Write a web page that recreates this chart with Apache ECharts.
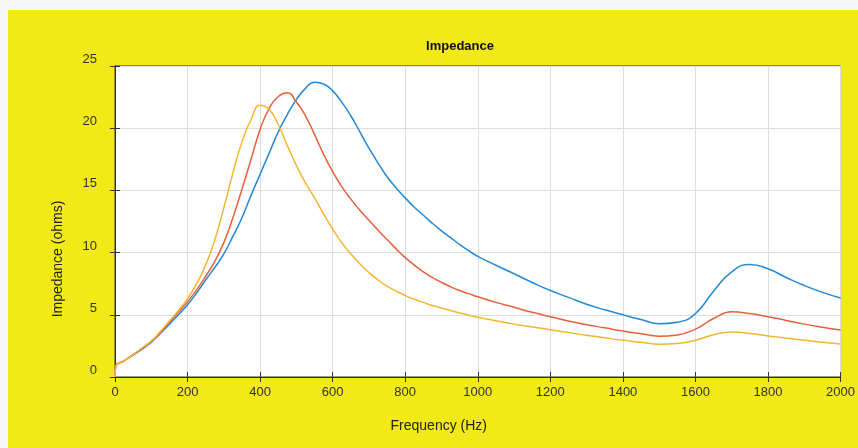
<!DOCTYPE html>
<html>
<head>
<meta charset="utf-8">
<script src="https://cdn.jsdelivr.net/npm/echarts@6/dist/echarts.min.js"></script>
<style>
  html, body { margin: 0; padding: 0; background: #f7f7f7; }
  #panel { position: absolute; left: 8px; top: 10px; right: 0; bottom: 0; background: #F1E918; }
  #main { position: absolute; left: 0; top: 0; width: 858px; height: 448px; }
</style>
</head>
<body>
<div id="panel"></div>
<div id="main"></div>
<script>
// frequency (Hz) and impedance (ohms)
var freq = [0, 2, 25, 50, 75, 100, 125, 150, 175, 200, 225, 250, 275, 300, 325, 350, 375, 400, 425, 450, 475,
            500, 525, 550, 575, 600, 625, 650, 675, 700, 725, 750, 775, 800, 825, 850, 875, 900, 925, 950, 975,
            1000, 1050, 1100, 1150, 1200, 1250, 1300, 1350, 1400, 1450, 1500, 1550, 1600, 1650, 1700, 1750,
            1800, 1850, 1900, 1950, 2000];

var zBlue = [0, 0.85, 1.3, 1.75, 2.25, 2.8, 3.5, 4.25, 5.0, 5.8, 6.75, 7.8, 8.8, 9.9, 11.3, 12.8, 14.6, 16.3, 18.0, 19.7, 21.1,
             22.3, 23.2, 23.7, 23.55, 23.0, 22.1, 21.0, 19.7, 18.4, 17.2, 16.1, 15.2, 14.4, 13.65, 13.0, 12.35, 11.75, 11.2, 10.65, 10.15,
             9.7, 8.98, 8.3, 7.6, 6.95, 6.4, 5.85, 5.4, 5.0, 4.62, 4.28, 4.4, 5.1, 6.9, 8.45, 9.05,
             8.7, 8.0, 7.35, 6.8, 6.35];

var zRed = [0, 0.85, 1.3, 1.8, 2.3, 2.85, 3.55, 4.4, 5.2, 6.05, 7.0, 8.1, 9.3, 10.8, 12.8, 15.1, 17.5, 19.9, 21.6, 22.55, 22.85,
            22.1, 21.0, 19.5, 17.9, 16.5, 15.3, 14.3, 13.4, 12.6, 11.8, 11.05, 10.3, 9.6, 9.0, 8.45, 8.0, 7.6, 7.25, 6.95, 6.7,
            6.45, 6.0, 5.6, 5.2, 4.85, 4.5, 4.2, 3.95, 3.7, 3.48, 3.28, 3.38, 3.85, 4.7, 5.25, 5.1,
            4.85, 4.55, 4.25, 4.0, 3.78];

var zYellow = [0, 0.85, 1.3, 1.8, 2.35, 2.9, 3.65, 4.5, 5.35, 6.3, 7.5, 9.0, 11.0, 13.6, 16.4, 18.9, 20.7, 21.85, 21.5, 20.3, 18.6,
               17.0, 15.6, 14.4, 13.1, 11.9, 10.8, 9.9, 9.1, 8.4, 7.8, 7.3, 6.9, 6.55, 6.25, 6.0, 5.75, 5.55, 5.35, 5.15, 4.97,
               4.8, 4.52, 4.25, 4.02, 3.8, 3.57, 3.35, 3.15, 2.95, 2.8, 2.64, 2.7, 2.95, 3.4, 3.62, 3.5,
               3.3, 3.12, 2.95, 2.8, 2.65];

function pairs(xs, ys) {
    return xs.map(function (x, i) { return [x, ys[i]]; });
}

var labelStyle = { color: '#333', fontFamily: 'Liberation Sans', fontSize: 13 };

var myChart = echarts.init(document.getElementById('main'));
var option = {
    animation: false,
    backgroundColor: 'transparent',
    title: {
        text: 'Impedance',
        left: 455,
        top: 35,
        textAlign: 'center',
        textStyle: { fontFamily: 'Liberation Sans', fontSize: 13, fontWeight: 'bold', color: '#111' }
    },
    grid: {
        left: 115, right: 15, top: 66, bottom: 71,
        show: true, backgroundColor: '#fff', borderColor: '#333', borderWidth: 1
    },
    xAxis: [{
        type: 'value', min: 0, max: 2000, interval: 200,
        name: 'Frequency (Hz)', nameLocation: 'middle', nameGap: 42,
        nameTextStyle: { color: '#222', fontFamily: 'Liberation Sans', fontSize: 14, padding: [0, 78, 0, 0] },
        axisLine: { lineStyle: { color: '#333' } },
        axisTick: { inside: true, length: 5, lineStyle: { color: '#333' } },
        axisLabel: Object.assign({ margin: 9, formatter: function (v) { return String(v); } }, labelStyle),
        splitLine: { lineStyle: { color: '#dedede' } }
    }, {
        type: 'value', min: 0, max: 2000, interval: 200, position: 'top',
        axisLine: { lineStyle: { color: '#333' } },
        axisTick: { inside: true, length: 5, lineStyle: { color: '#333' } },
        axisLabel: { show: false }, splitLine: { show: false }
    }],
    yAxis: [{
        type: 'value', min: 0, max: 25, interval: 5,
        name: 'Impedance (ohms)', nameLocation: 'middle', nameGap: 50,
        nameTextStyle: { color: '#222', fontFamily: 'Liberation Sans', fontSize: 14, padding: [0, 75, 0, 0] },
        axisLine: { show: true, lineStyle: { color: '#333' } },
        axisTick: { show: true, inside: true, length: 5, lineStyle: { color: '#333' } },
        axisLabel: Object.assign({ margin: 18, verticalAlign: 'bottom' }, labelStyle),
        splitLine: { lineStyle: { color: '#dedede' } }
    }, {
        type: 'value', min: 0, max: 25, interval: 5, position: 'right',
        axisLine: { show: true, lineStyle: { color: '#333' } },
        axisTick: { show: true, inside: true, length: 5, lineStyle: { color: '#333' } },
        axisLabel: { show: false }, splitLine: { show: false }
    }],
    series: [
        { name: 'blue', type: 'line', data: pairs(freq, zBlue), smooth: 0.5, showSymbol: false,
          lineStyle: { color: '#2389d6', width: 1.5 } },
        { name: 'red', type: 'line', data: pairs(freq, zRed), smooth: 0.5, showSymbol: false,
          lineStyle: { color: '#e8603a', width: 1.5 } },
        { name: 'yellow', type: 'line', data: pairs(freq, zYellow), smooth: 0.5, showSymbol: false,
          lineStyle: { color: '#f4b630', width: 1.5 } }
    ]
};
myChart.setOption(option);
</script>
</body>
</html>
